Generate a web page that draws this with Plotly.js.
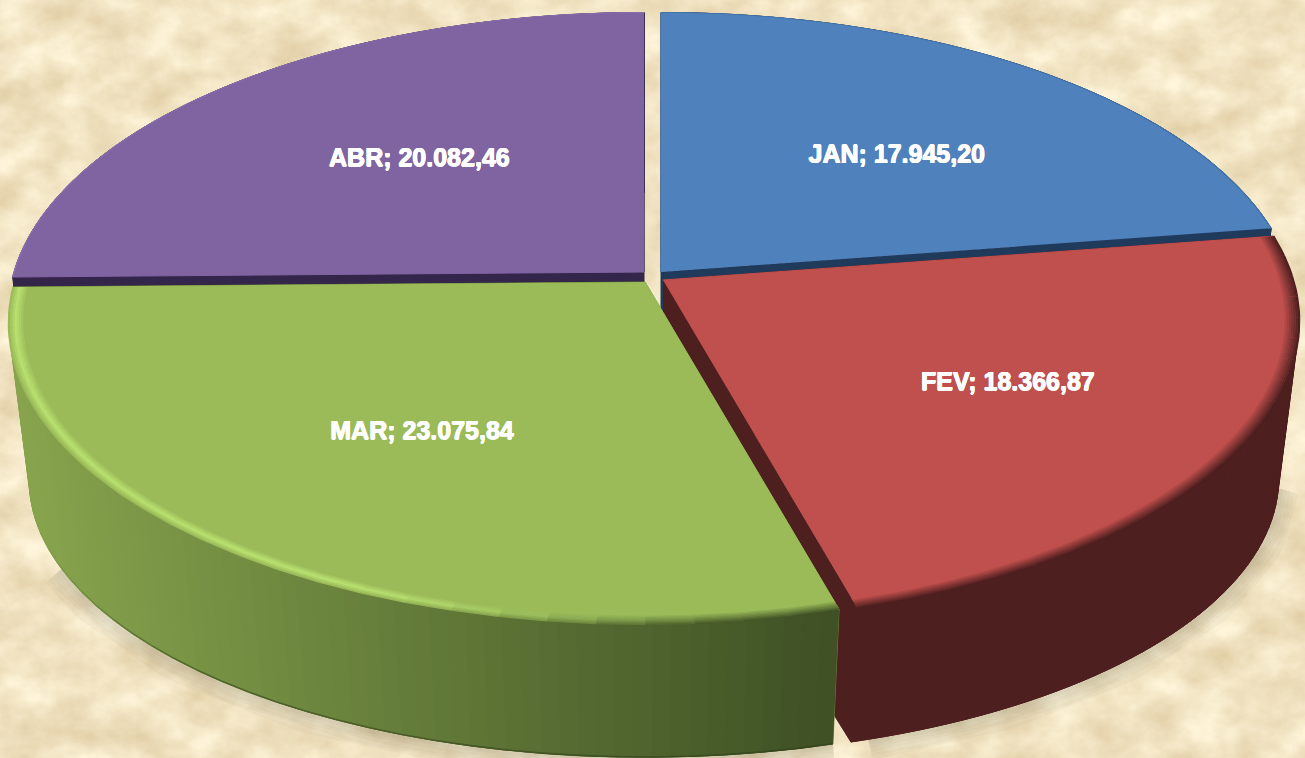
<!DOCTYPE html>
<html>
<head>
<meta charset="utf-8">
<script src="https://cdn.plot.ly/plotly-3.0.1.min.js"></script>
<style>
html,body{margin:0;padding:0;width:1305px;height:758px;overflow:hidden}
#bg{position:absolute;left:0;top:0;width:1305px;height:758px}
#chart{position:absolute;left:0;top:0;width:1305px;height:758px}
</style>
</head>
<body>
<svg id="bg" xmlns="http://www.w3.org/2000/svg" width="1305" height="758">
  <filter id="paper" x="0" y="0" width="100%" height="100%" color-interpolation-filters="sRGB">
    <feTurbulence type="fractalNoise" baseFrequency="0.022 0.028" numOctaves="6" seed="11"/>
    <feColorMatrix type="matrix" values="0.17 0 0 0 0.860  0.22 0 0 0 0.780  0.30 0 0 0 0.610  0 0 0 0 1"/>
  </filter>
  <rect width="1305" height="758" filter="url(#paper)"/>
</svg>
<div id="chart"></div>
<script>
// ---- data ----
const categories = ['JAN', 'FEV', 'MAR', 'ABR'];
const values = [17945.20, 18366.87, 23075.84, 20082.46];

// ---- colours ----
const topColors  = ['#4f81bd', '#c0504d', '#9bbb59', '#8064a2'];
const wallColors = ['#1f3a5a', '#4e1f1f', '#6a8239', '#33264a'];
const greenWallLeft = '#87a44d', greenWallRight = '#3f5125';
const greenHighlight = '#b9e271';

// ---- projection of the tilted disc (pixels on the page) ----
const apexes = [[661, 272], [663, 280], [645, 282], [644, 272]];
const K = 0.137, TOP_A = 295, TOP_B = 630, BOT_A = 272, BOT_B = 610, DROP = 160;
const labelRadius = [0.60, 0.62, 0.56, 0.54];
const labelNudge = [[4, 11], [1, 0], [2, 10], [6, -6]];

const total = values.reduce((a, b) => a + b, 0);
const rad = d => d * Math.PI / 180;
function proj(i, deg, r, bottom) {
  const u = r * Math.sin(rad(deg)), v = -r * Math.cos(rad(deg));
  const D = 1 - K * v;
  const [ax, ay] = apexes[i];
  return bottom
    ? [ax + BOT_B * u / D, ay + DROP + BOT_A * v / D]
    : [ax + TOP_B * u / D, ay + TOP_A * v / D];
}
const hex = c => [1, 3, 5].map(p => parseInt(c.substr(p, 2), 16));
function mix(a, b, t) {
  t = Math.max(0, Math.min(1, t));
  const A = hex(a), B = hex(b);
  const h = A.map((x, k) => Math.round(x + (B[k] - x) * t).toString(16).padStart(2, '0'));
  return '#' + h.join('');
}
const smooth = (a, b, x) => { const t = Math.max(0, Math.min(1, (x - a) / (b - a))); return t * t * (3 - 2 * t); };
const poly = (pts, color) => ({
  type: 'scatter', mode: 'lines', x: pts.map(p => p[0]), y: pts.map(p => p[1]),
  fill: 'toself', fillcolor: color, line: {color, width: 1},
  hoverinfo: 'skip', showlegend: false
});
const seg = (pts, color, width) => ({
  type: 'scatter', mode: 'lines', x: pts.map(p => p[0]), y: pts.map(p => p[1]),
  line: {color, width}, hoverinfo: 'skip', showlegend: false
});

let acc = 0;
const spans = values.map(v => { const s = acc; acc += v / total * 360; return [s, acc]; });
const wallAt = (i, x) => i === 2 ? mix(greenWallLeft, greenWallRight, (x - 20) / 815) : wallColors[i];

const traces = [];

// soft grey shadow on the paper under the near rim
[[1, 100], [2, 245]].forEach(([i, limit]) => {
  const pts = [];
  if (i === 1) for (let d = limit; d <= spans[1][1]; d += 1.5) pts.push(proj(i, d, 1, true));
  else for (let d = spans[2][0]; d <= limit; d += 1.5) pts.push(proj(i, d, 1, true));
  [42, 34, 26, 18, 10].forEach(w => traces.push(seg(pts, 'rgba(120,110,95,0.05)', w)));
});

// paint far slices first, near slices last
[3, 0, 1, 2].forEach(i => {
  const [a0, a1] = spans[i];
  const steps = Math.ceil((a1 - a0) / 1.5);
  const angle = k => a0 + (a1 - a0) * Math.min(k, steps) / steps;
  // radial walls
  [a0, a1].forEach(a => {
    traces.push(poly([[...apexes[i]], proj(i, a, 1, false), proj(i, a, 1, true),
      [apexes[i][0], apexes[i][1] + DROP]], wallColors[i]));
  });
  // outer wall: overlapping strips, so the side silhouette stays convex
  for (let k = 0; k < steps; k++) {
    const p = proj(i, angle(k), 1, false), q = proj(i, angle(k + 2), 1, false);
    const r = proj(i, angle(k + 2), 1, true), s = proj(i, angle(k), 1, true);
    traces.push(poly([p, q, r, s], wallAt(i, p[0])));
  }
  if (i === 2) {
    for (let k = 0; k < steps; k += 2) {
      const base = wallAt(i, proj(i, angle(k), 1, true)[0]);
      const amt = 0.5 * (1 - smooth(215, 250, angle(k)));
      traces.push(seg([proj(i, angle(k), 0.9995, true), proj(i, angle(k + 2), 0.9995, true)], mix(base, '#2c3a16', amt), 1.6));
    }
  }
  // top face
  const face = [[...apexes[i]]];
  for (let k = 0; k <= steps; k++) face.push(proj(i, angle(k), 1, false));
  traces.push(poly(face, topColors[i]));
  // soft bevel along the rim
  const bevel = i === 1 || i === 2;
  const bands = bevel ? 8 : 2;
  const arcSteps = Math.ceil((a1 - a0) / 4);
  for (let b = 0; b < bands; b++) {
    const t = b / (bands - 1);
    const rr = 1 - t * (bevel ? 0.024 : 0.003);
    for (let k = 0; k < arcSteps; k++) {
      const d0 = a0 + (a1 - a0) * k / arcSteps, d1 = a0 + (a1 - a0) * (k + 1) / arcSteps;
      const pts = [];
      for (let m = 0; m <= 3; m++) pts.push(proj(i, d0 + (d1 - d0) * m / 3, rr, false));
      const mid = pts[1];
      let col;
      if (i === 1) col = mix(wallColors[1], topColors[1], t);
      else if (i === 2) {
        const wc = wallAt(2, mid[0]);
        const plain = mix(wc, topColors[2], t);
        const lit = t < 0.45 ? mix(topColors[2], greenHighlight, t / 0.45) : mix(greenHighlight, topColors[2], (t - 0.45) / 0.55);
        col = mix(plain, lit, smooth(172, 205, (d0 + d1) / 2));
      } else if (i === 0) col = mix('#42709f', topColors[0], t);
      else col = mix('#8a70ae', topColors[3], t);
      traces.push(seg(pts, col, bevel ? 2.6 : 1.2));
    }
  }
});

// data labels, built from the values
const fmt = new Intl.NumberFormat('pt-BR', {minimumFractionDigits: 2, maximumFractionDigits: 2});
const labelPts = spans.map((s, i) => {
  const p = proj(i, (s[0] + s[1]) / 2, labelRadius[i], false);
  return [p[0] + labelNudge[i][0], p[1] + labelNudge[i][1]];
});
traces.push({
  type: 'scatter', mode: 'text',
  x: labelPts.map(p => p[0]), y: labelPts.map(p => p[1]),
  text: categories.map((c, i) => c + '; ' + fmt.format(values[i])),
  textposition: 'middle center',
  textfont: {family: '"Liberation Sans", Arial, sans-serif', size: 25, color: '#ffffff', weight: 'bold',
             shadow: '0.5px 0 0 #fff, -0.5px 0 0 #fff, 0 0.5px 0 #fff, 0 -0.5px 0 #fff'},
  hoverinfo: 'skip', showlegend: false
});

const layout = {
  width: 1305, height: 758,
  margin: {l: 0, r: 0, t: 0, b: 0},
  paper_bgcolor: 'rgba(0,0,0,0)', plot_bgcolor: 'rgba(0,0,0,0)',
  xaxis: {range: [0, 1305], visible: false, fixedrange: true},
  yaxis: {range: [758, 0], visible: false, fixedrange: true},
  showlegend: false
};
Plotly.newPlot('chart', traces, layout, {displayModeBar: false, staticPlot: true});
</script>
</body>
</html>
